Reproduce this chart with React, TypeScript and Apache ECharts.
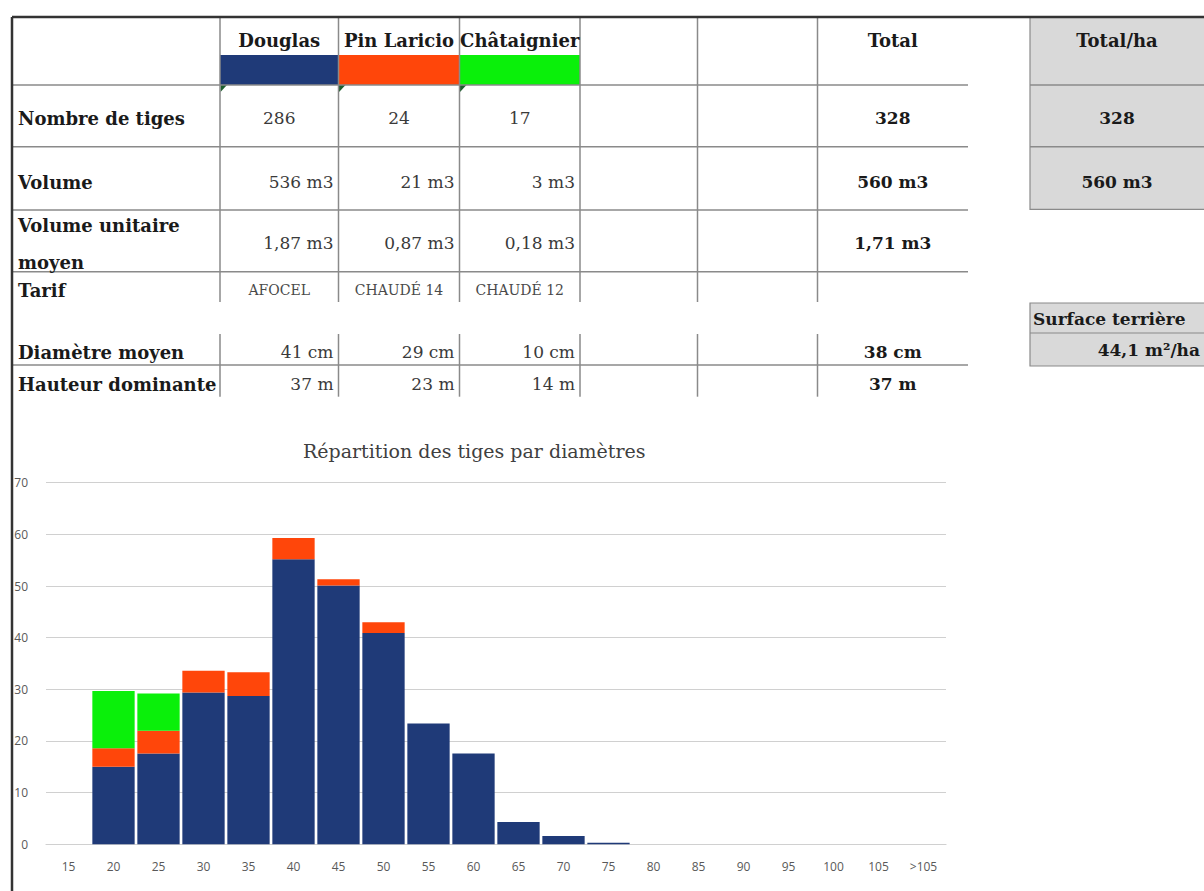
import React, { useEffect, useRef } from 'react';
import * as echarts from 'echarts';

// ---------- Data ----------
const diameterClasses = ['15', '20', '25', '30', '35', '40', '45', '50', '55', '60', '65', '70', '75', '80', '85', '90', '95', '100', '105', '>105'];
const douglasStems = [0, 15, 17.6, 29.4, 28.7, 55.2, 50.1, 40.9, 23.4, 17.6, 4.3, 1.6, 0.3, 0, 0, 0, 0, 0, 0, 0];
const pinLaricioStems = [0, 3.6, 4.4, 4.2, 4.6, 4.1, 1.2, 2.1, 0, 0, 0, 0, 0, 0, 0, 0, 0, 0, 0, 0];
const chataignierStems = [0, 11.1, 7.2, 0, 0, 0, 0, 0, 0, 0, 0, 0, 0, 0, 0, 0, 0, 0, 0, 0];
const yMin = 0;
const yMax = 70;
const yInterval = 10;
const chartTitle = 'Répartition des tiges par diamètres';

const speciesNames = ['Douglas', 'Pin Laricio', 'Châtaignier'];
const speciesColors = ['#1f3a78', '#ff460a', '#0af00a'];
const rowLabels = ['Nombre de tiges', 'Volume', 'Volume unitaire', 'moyen', 'Tarif', 'Diamètre moyen', 'Hauteur dominante'];
const nombreTiges = ['286', '24', '17'];
const volumes = ['536 m3', '21 m3', '3 m3'];
const volumesUnitaires = ['1,87 m3', '0,87 m3', '0,18 m3'];
const tarifs = ['AFOCEL', 'CHAUDÉ 14', 'CHAUDÉ 12'];
const diametresMoyens = ['41 cm', '29 cm', '10 cm'];
const hauteursDominantes = ['37 m', '23 m', '14 m'];
const totalHeader = 'Total';
const totalColumn = ['328', '560 m3', '1,71 m3', '38 cm', '37 m'];
const totalPerHaHeader = 'Total/ha';
const totalPerHa = ['328', '560 m3'];
const surfaceLabel = 'Surface terrière';
const surfaceValue = '44,1 m²/ha';

// ---------- Layout (positions only) ----------
const SERIF = '"DejaVu Serif", serif';
const colX = [220, 338.5, 459.5, 580, 697.5, 817.5];
const tableLeft = 12;
const tableTop = 17;
const tableRight = 968;
const rowLines = [85, 146.7, 210, 271.7, 365];
const lineColor = '#8a8a8a';

function txt(text: string, x: number, y: number, font: string, align: string, fill: string) {
  return {
    type: 'text',
    x,
    y,
    silent: true,
    style: { text, font, fill, align, verticalAlign: 'middle', textAlign: align, textVerticalAlign: 'middle' },
  };
}
function ln(x1: number, y1: number, x2: number, y2: number, stroke: string, lineWidth: number) {
  return { type: 'line', silent: true, shape: { x1, y1, x2, y2 }, style: { stroke, lineWidth } };
}

function buildGraphic() {
  const g: any[] = [];
  const labelFont = `bold 18px ${SERIF}`;
  const valueFont = `17px ${SERIF}`;
  const totalFont = `bold 17px ${SERIF}`;
  const valueFill = '#3a3a3a';
  const labelFill = '#1a1a1a';

  // gray boxes
  g.push({ type: 'rect', silent: true, shape: { x: 1030, y: tableTop, width: 180, height: 192.3 }, style: { fill: '#d9d9d9', stroke: '#8a8a8a', lineWidth: 1.2 } });
  g.push(ln(1030, 85, 1204, 85, lineColor, 1.5));
  g.push(ln(1030, 146.7, 1204, 146.7, lineColor, 1.5));
  g.push({ type: 'rect', silent: true, shape: { x: 1030, y: 303, width: 180, height: 63 }, style: { fill: '#d9d9d9', stroke: '#8a8a8a', lineWidth: 1.2 } });
  g.push(ln(1030, 333, 1204, 333, lineColor, 1.2));

  // species colour bars
  speciesColors.forEach((c, i) => {
    g.push({ type: 'rect', silent: true, shape: { x: colX[i], y: 55, width: colX[i + 1] - colX[i], height: 30 }, style: { fill: c } });
    g.push({ type: 'polygon', silent: true, shape: { points: [[colX[i] + 0.5, 85], [colX[i] + 7, 85], [colX[i] + 0.5, 92]] }, style: { fill: '#1d5e2e' } });
  });

  // horizontal lines
  rowLines.forEach((y) => g.push(ln(tableLeft, y, tableRight, y, lineColor, 1.5)));
  // vertical lines
  colX.forEach((x) => {
    g.push(ln(x, tableTop, x, 271.7, lineColor, 1.5));
    g.push(ln(x, 271.7, x, 302, lineColor, 1.5));
    g.push(ln(x, 334, x, 396.7, lineColor, 1.5));
  });

  // outer borders
  g.push(ln(tableLeft, tableTop, 1204, tableTop, '#333333', 2.5));
  g.push(ln(tableLeft, tableTop, tableLeft, 891, '#333333', 2.5));

  // headers
  speciesNames.forEach((n, i) => g.push(txt(n, (colX[i] + colX[i + 1]) / 2, 40, labelFont, 'center', labelFill)));
  const totalCx = (colX[5] + tableRight) / 2;
  g.push(txt(totalHeader, totalCx, 40, labelFont, 'center', labelFill));
  g.push(txt(totalPerHaHeader, 1117, 40, labelFont, 'center', labelFill));

  // row labels
  const labelY = [118, 182, 225, 262, 290, 352, 384];
  rowLabels.forEach((l, i) => g.push(txt(l, 18, labelY[i], labelFont, 'left', labelFill)));

  // species values
  for (let i = 0; i < 3; i++) {
    const cx = (colX[i] + colX[i + 1]) / 2;
    const rx = colX[i + 1] - 5;
    g.push(txt(nombreTiges[i], cx, 118, valueFont, 'center', valueFill));
    g.push(txt(volumes[i], rx, 182, valueFont, 'right', valueFill));
    g.push(txt(volumesUnitaires[i], rx, 243, valueFont, 'right', valueFill));
    g.push(txt(tarifs[i], cx, 290, `14px ${SERIF}`, 'center', '#4a4a4a'));
    g.push(txt(diametresMoyens[i], rx, 352, valueFont, 'right', valueFill));
    g.push(txt(hauteursDominantes[i], rx, 384, valueFont, 'right', valueFill));
  }

  // totals
  const totalY = [118, 182, 243, 352, 384];
  totalColumn.forEach((v, i) => g.push(txt(v, totalCx, totalY[i], totalFont, 'center', labelFill)));
  totalPerHa.forEach((v, i) => g.push(txt(v, 1117, [118, 182][i], totalFont, 'center', labelFill)));

  // surface terriere
  g.push(txt(surfaceLabel, 1033, 319, totalFont, 'left', labelFill));
  g.push(txt(surfaceValue, 1200, 350, totalFont, 'right', labelFill));

  return g;
}

export default function App() {
  const ref = useRef<HTMLDivElement>(null);
  useEffect(() => {
    if (!ref.current) return;
    const chart = echarts.init(ref.current, undefined, { renderer: 'svg' });
    const axisFont = '"Open Sans", sans-serif';
    chart.setOption({
      animation: false,
      backgroundColor: '#ffffff',
      title: {
        text: chartTitle,
        left: 298,
        top: 436,
        textStyle: { fontFamily: SERIF, fontSize: 19, fontWeight: 'normal', color: '#404040' },
      },
      grid: { left: 46, right: 258, top: 482.7, bottom: 46.7, containLabel: false },
      xAxis: {
        type: 'category',
        data: diameterClasses,
        axisLine: { show: true, lineStyle: { color: '#d0d0d0', width: 1.2 } },
        axisTick: { show: false },
        axisLabel: { color: '#595959', fontSize: 12, fontFamily: axisFont, margin: 16, interval: 0 },
      },
      yAxis: {
        type: 'value',
        min: yMin,
        max: yMax,
        interval: yInterval,
        axisLine: { show: false },
        axisTick: { show: false },
        axisLabel: { color: '#595959', fontSize: 12, fontFamily: axisFont, margin: 18 },
        splitLine: { lineStyle: { color: '#d0d0d0', width: 1.2 } },
      },
      series: [
        { name: speciesNames[0], type: 'bar', stack: 'tiges', data: douglasStems, barCategoryGap: '6%', itemStyle: { color: speciesColors[0] } },
        { name: speciesNames[1], type: 'bar', stack: 'tiges', data: pinLaricioStems, barCategoryGap: '6%', itemStyle: { color: speciesColors[1] } },
        { name: speciesNames[2], type: 'bar', stack: 'tiges', data: chataignierStems, barCategoryGap: '6%', itemStyle: { color: speciesColors[2] } },
      ],
      graphic: buildGraphic(),
    });
    return () => chart.dispose();
  }, []);
  return <div ref={ref} style={{ position: 'absolute', left: 0, top: 0, width: 1204, height: 891 }} />;
}
